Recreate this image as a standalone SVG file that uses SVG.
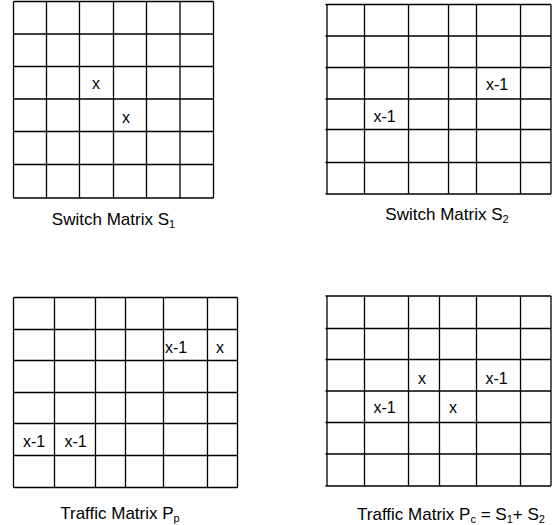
<svg xmlns="http://www.w3.org/2000/svg" width="559" height="525" viewBox="0 0 559 525">
<style>
.grid{fill:none;stroke:#000;stroke-width:1.3}
.cell{font-family:"Liberation Sans",Arial,sans-serif;font-size:16px;fill:#000}
.lbl{font-family:"Liberation Sans",Arial,sans-serif;font-size:17px;fill:#000}
.sub{font-size:11px}
</style>
<rect width="559" height="525" fill="#fff"/>
<g id="switch-matrix-s1">
<path class="grid" d="M13.5 1.5V198M46.5 1.5V198M79.5 1.5V198M113.5 1.5V198M146.5 1.5V198M180 1.5V198M213.5 1.5V198M13.5 1.5H213.5M13.5 34H213.5M13.5 66.5H213.5M13.5 99H213.5M13.5 131.5H213.5M13.5 164.5H213.5M13.5 198H213.5"/>
<text class="cell" x="92" y="89">x</text>
<text class="cell" x="122" y="122.5">x</text>
<text class="lbl" x="113.5" y="225" text-anchor="middle">Switch Matrix S<tspan class="sub" dy="3">1</tspan></text>
</g>
<g id="switch-matrix-s2">
<path class="grid" d="M327 4.5V194M364.5 4.5V194M408.5 4.5V194M448.5 4.5V194M476.5 4.5V194M520.5 4.5V194M551 4.5V194M325.5 4.5H551M325.5 36H551M325.5 67.5H551M325.5 99H551M325.5 129.5H551M325.5 162.5H551M325.5 194H551"/>
<text class="cell" x="486" y="90">x-1</text>
<text class="cell" x="373.5" y="121.5">x-1</text>
<text class="lbl" x="447" y="220" text-anchor="middle">Switch Matrix S<tspan class="sub" dy="3">2</tspan></text>
</g>
<g id="traffic-matrix-pp">
<path class="grid" d="M13.5 297.5V487.5M54.5 297.5V487.5M95.5 297.5V487.5M125.5 297.5V487.5M163.5 297.5V487.5M207.5 297.5V487.5M237.5 297.5V487.5M13.5 297.5H237.5M13.5 329.5H237.5M13.5 360.5H237.5M13.5 392.5H237.5M13.5 423.5H237.5M13.5 455.5H237.5M13.5 487.5H237.5"/>
<text class="cell" x="165" y="353">x-1</text>
<text class="cell" x="216" y="353">x</text>
<text class="cell" x="23" y="446.5">x-1</text>
<text class="cell" x="64.5" y="446.5">x-1</text>
<text class="lbl" x="120" y="519" text-anchor="middle">Traffic Matrix P<tspan class="sub" dy="3">p</tspan></text>
</g>
<g id="traffic-matrix-pc">
<path class="grid" d="M327 296V486M364.5 296V486M408.5 296V486M439.5 296V486M476.5 296V486M520.5 296V486M551 296V486M325.5 296H551M325.5 328.5H551M325.5 359.5H551M325.5 391H551M325.5 422.5H551M325.5 454H551M325.5 486H551"/>
<text class="cell" x="418" y="384">x</text>
<text class="cell" x="485.5" y="384">x-1</text>
<text class="cell" x="373.5" y="413">x-1</text>
<text class="cell" x="449" y="413">x</text>
<text class="lbl" x="451" y="520" text-anchor="middle">Traffic Matrix P<tspan class="sub" dy="3">c</tspan><tspan dy="-3"> = S</tspan><tspan class="sub" dy="3">1</tspan><tspan dy="-3">+ S</tspan><tspan class="sub" dy="3">2</tspan></text>
</g>
</svg>
